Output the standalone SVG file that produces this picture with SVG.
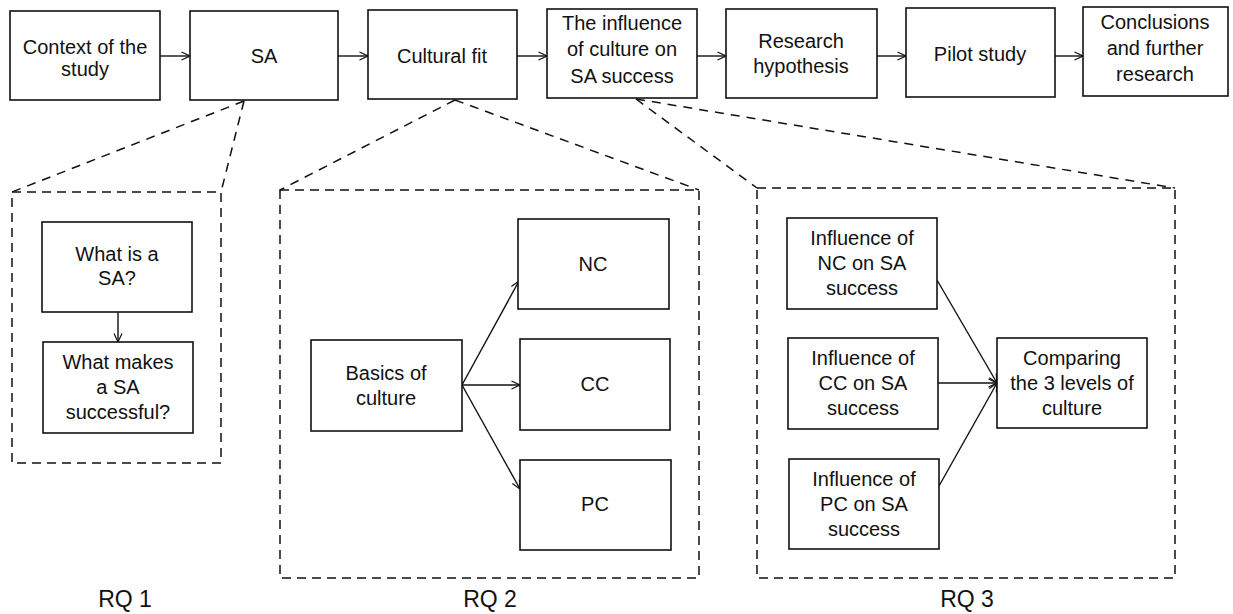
<svg xmlns="http://www.w3.org/2000/svg" width="1233" height="614" viewBox="0 0 1233 614">
<style>
.box{fill:#fff;stroke:#111;stroke-width:1.6}
.frame{fill:none;stroke:#111;stroke-width:1.5;stroke-dasharray:9 6}
.dash{fill:none;stroke:#111;stroke-width:1.5;stroke-dasharray:9 7}
.arr{fill:none;stroke:#111;stroke-width:1.4;marker-end:url(#ah)}
text{font-family:"Liberation Sans",Arial,sans-serif;font-size:20px;fill:#111;text-anchor:middle}
.lbl{font-size:23px}
</style>
<defs>
<marker id="ah" viewBox="0 0 10 10" refX="9.5" refY="5" markerWidth="10" markerHeight="10" markerUnits="userSpaceOnUse" orient="auto">
<path d="M1,1 L9.5,5 L1,9" fill="none" stroke="#111" stroke-width="1.2"/>
</marker>
</defs>
<rect width="1233" height="614" fill="#fff"/>

<g id="connectors">
<line class="arr" x1="160" y1="56" x2="190" y2="56"/>
<line class="arr" x1="338" y1="56" x2="368" y2="56"/>
<line class="arr" x1="517" y1="56" x2="547" y2="56"/>
<line class="arr" x1="697" y1="56" x2="726" y2="56"/>
<line class="arr" x1="877" y1="56" x2="906" y2="56"/>
<line class="arr" x1="1055" y1="56" x2="1083" y2="56"/>
<line class="arr" x1="118" y1="312" x2="118" y2="342"/>
<line class="arr" x1="462" y1="385" x2="519" y2="281"/>
<line class="arr" x1="462" y1="385" x2="520" y2="385"/>
<line class="arr" x1="462" y1="385" x2="520" y2="489"/>
<line class="arr" x1="937" y1="280" x2="997" y2="383"/>
<line class="arr" x1="938" y1="383" x2="997" y2="383"/>
<line class="arr" x1="939" y1="486" x2="997" y2="383"/>
<line class="dash" x1="244" y1="101" x2="12" y2="192"/>
<line class="dash" x1="244" y1="101" x2="221" y2="192"/>
<line class="dash" x1="455" y1="100" x2="280" y2="190"/>
<line class="dash" x1="455" y1="100" x2="699" y2="190"/>
<line class="dash" x1="636" y1="99" x2="757" y2="188"/>
<line class="dash" x1="636" y1="99" x2="1175" y2="188"/>
</g>

<g id="rq1">
<rect class="frame" x="12" y="192" width="209" height="271"/>
<text class="lbl" x="125" y="607">RQ 1</text>
</g>
<g id="rq2">
<rect class="frame" x="280" y="190" width="419" height="388"/>
<text class="lbl" x="490" y="607">RQ 2</text>
</g>
<g id="rq3">
<rect class="frame" x="757" y="188" width="418" height="390"/>
<text class="lbl" x="967" y="607">RQ 3</text>
</g>

<g id="context"><rect class="box" x="10" y="11" width="150" height="89"/><text x="85" y="54">Context of the</text><text x="85" y="76">study</text></g>
<g id="sa"><rect class="box" x="190" y="11" width="148" height="89"/><text x="264" y="63">SA</text></g>
<g id="cultural-fit"><rect class="box" x="368" y="10" width="149" height="89"/><text x="442" y="63">Cultural fit</text></g>
<g id="influence"><rect class="box" x="547" y="9" width="150" height="89"/><text x="622" y="30">The influence</text><text x="622" y="56">of culture on</text><text x="622" y="83">SA success</text></g>
<g id="hypothesis"><rect class="box" x="726" y="9" width="151" height="89"/><text x="801" y="48">Research</text><text x="801" y="73">hypothesis</text></g>
<g id="pilot"><rect class="box" x="906" y="8" width="149" height="89"/><text x="980" y="61">Pilot study</text></g>
<g id="conclusions"><rect class="box" x="1083" y="7" width="145" height="89"/><text x="1155" y="29">Conclusions</text><text x="1155" y="55">and further</text><text x="1155" y="81">research</text></g>

<g id="what-is"><rect class="box" x="42" y="222" width="150" height="90"/><text x="117" y="261">What is a</text><text x="117" y="285">SA?</text></g>
<g id="what-makes"><rect class="box" x="43" y="342" width="150" height="91"/><text x="118" y="369">What makes</text><text x="118" y="394">a SA</text><text x="118" y="419">successful?</text></g>

<g id="basics"><rect class="box" x="311" y="340" width="151" height="91"/><text x="386" y="380">Basics of</text><text x="386" y="405">culture</text></g>
<g id="nc"><rect class="box" x="518" y="219" width="151" height="90"/><text x="593" y="271">NC</text></g>
<g id="cc"><rect class="box" x="520" y="339" width="150" height="91"/><text x="595" y="391">CC</text></g>
<g id="pc"><rect class="box" x="520" y="460" width="151" height="90"/><text x="595" y="511">PC</text></g>

<g id="inf-nc"><rect class="box" x="787" y="218" width="150" height="91"/><text x="862" y="245">Influence of</text><text x="862" y="270">NC on SA</text><text x="862" y="295">success</text></g>
<g id="inf-cc"><rect class="box" x="788" y="338" width="150" height="91"/><text x="863" y="365">Influence of</text><text x="863" y="390">CC on SA</text><text x="863" y="415">success</text></g>
<g id="inf-pc"><rect class="box" x="789" y="459" width="150" height="90"/><text x="864" y="486">Influence of</text><text x="864" y="511">PC on SA</text><text x="864" y="536">success</text></g>
<g id="comparing"><rect class="box" x="997" y="338" width="150" height="90"/><text x="1072" y="365">Comparing</text><text x="1072" y="390">the 3 levels of</text><text x="1072" y="415">culture</text></g>
</svg>
